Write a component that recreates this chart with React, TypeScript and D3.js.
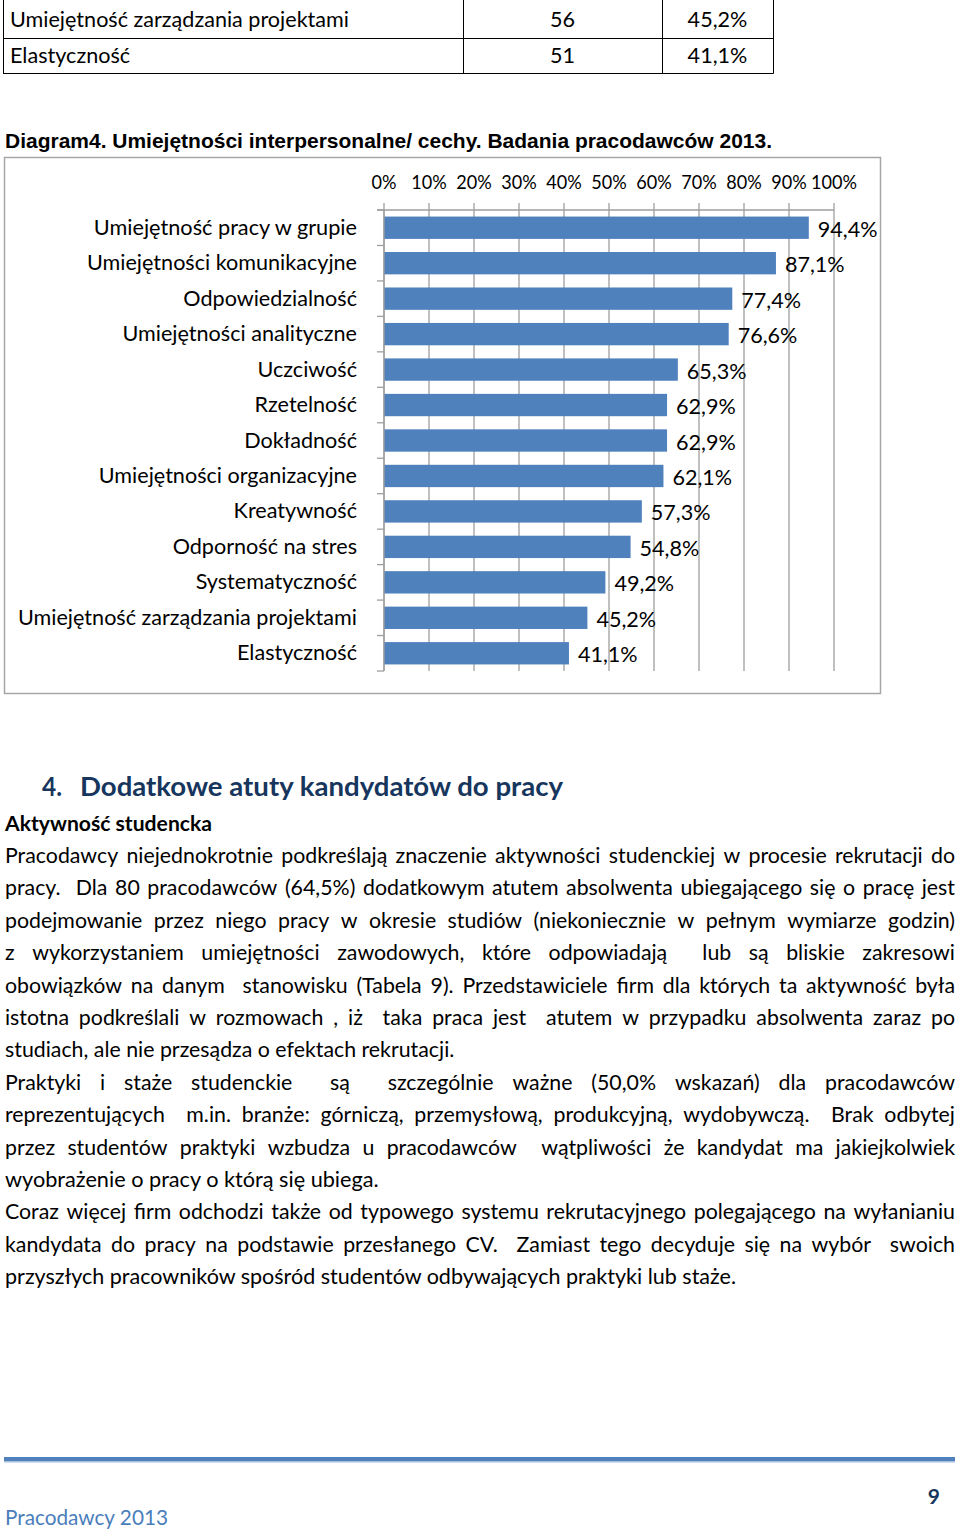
import React from 'react';
import * as d3 from 'd3';

// ---------- data ----------
const categories = [
  'Umiejętność pracy w grupie',
  'Umiejętności komunikacyjne',
  'Odpowiedzialność',
  'Umiejętności analityczne',
  'Uczciwość',
  'Rzetelność',
  'Dokładność',
  'Umiejętności organizacyjne',
  'Kreatywność',
  'Odporność na stres',
  'Systematyczność',
  'Umiejętność zarządzania projektami',
  'Elastyczność',
];
const values = [94.4, 87.1, 77.4, 76.6, 65.3, 62.9, 62.9, 62.1, 57.3, 54.8, 49.2, 45.2, 41.1];
const xTicks = [0, 10, 20, 30, 40, 50, 60, 70, 80, 90, 100];

const tableRows = [
  ['Umiejętność zarządzania projektami', '56', '45,2%'],
  ['Elastyczność', '51', '41,1%'],
];

const diagramTitle = 'Diagram4. Umiejętności interpersonalne/ cechy. Badania pracodawców 2013.';
const sectionNumber = '4.';
const sectionTitle = 'Dodatkowe atuty kandydatów do pracy';
const subTitle = 'Aktywność studencka';

// [text, justified]
const bodyLines: [string, boolean][] = [
  ['Pracodawcy niejednokrotnie podkreślają znaczenie aktywności studenckiej w procesie rekrutacji do', true],
  ['pracy.  Dla 80 pracodawców (64,5%) dodatkowym atutem absolwenta ubiegającego się o pracę jest', true],
  ['podejmowanie przez niego pracy w okresie studiów (niekoniecznie w pełnym wymiarze godzin)', true],
  ['z wykorzystaniem umiejętności zawodowych, które odpowiadają  lub są bliskie zakresowi', true],
  ['obowiązków na danym  stanowisku (Tabela 9). Przedstawiciele firm dla których ta aktywność była', true],
  ['istotna podkreślali w rozmowach , iż  taka praca jest  atutem w przypadku absolwenta zaraz po', true],
  ['studiach, ale nie przesądza o efektach rekrutacji.', false],
  ['Praktyki i staże studenckie  są  szczególnie ważne (50,0% wskazań) dla pracodawców', true],
  ['reprezentujących  m.in. branże: górniczą, przemysłową, produkcyjną, wydobywczą.  Brak odbytej', true],
  ['przez studentów praktyki wzbudza u pracodawców  wątpliwości że kandydat ma jakiejkolwiek', true],
  ['wyobrażenie o pracy  o którą się ubiega.', false],
  ['Coraz więcej firm odchodzi także od typowego systemu rekrutacyjnego polegającego na wyłanianiu', true],
  ['kandydata do pracy na podstawie przesłanego CV.  Zamiast tego decyduje się na wybór  swoich', true],
  ['przyszłych  pracowników spośród studentów odbywających praktyki lub staże.', false],
];

const footerLeft = 'Pracodawcy 2013';
const pageNumber = '9';

// ---------- measuring ----------
const FAMILY = 'Lato';
const canvas = typeof document !== 'undefined' ? document.createElement('canvas') : null;
const ctx = canvas ? canvas.getContext('2d') : null;
function measure(text: string, size: number, weight = 'normal', family = FAMILY) {
  if (!ctx) return text.length * size * 0.5;
  ctx.font = `${weight} ${size}px ${family}`;
  return ctx.measureText(text).width;
}

const BAR = '#4F81BD';
const GRID = '#9E9E9E';

export default function App() {
  const W = 960;
  const H = 1532;

  // chart scales
  const x = d3.scaleLinear().domain([0, 100]).range([384, 834]);
  const y = d3.scaleBand<string>().domain(categories).range([210, 671]).paddingInner(0.37).paddingOuter(0.185);
  const yStep = d3.scaleBand<string>().domain(categories).range([210, 671]).padding(0);

  // label condensation factor (to mimic Calibri widths)
  const LABEL_SIZE = 21;
  const kLabel = 339 / measure('Umiejętność zarządzania projektami', LABEL_SIZE);
  const TICK_SIZE = 19;
  const kTick = 46 / measure('100%', TICK_SIZE);

  // body text
  const BODY_SIZE = 20.5;
  const kBody = 731 / measure(bodyLines[13][0], BODY_SIZE);
  const bodyLeft = 5;
  const bodyRight = 955;
  const bodyTop = 863;
  const lineGap = 32.4;

  const bodyEls: React.ReactNode[] = [];
  bodyLines.forEach(([line, just], i) => {
    const by = bodyTop + i * lineGap;
    if (!just) {
      bodyEls.push(
        <text key={`b${i}`} x={bodyLeft} y={by} fontSize={BODY_SIZE} textLength={measure(line, BODY_SIZE) * kBody} lengthAdjust="spacingAndGlyphs">
          {line}
        </text>
      );
    } else {
      const tokens = line.split(' ');
      const widths = tokens.map((t) => (t ? measure(t, BODY_SIZE) * kBody : 0));
      const sum = d3.sum(widths);
      const gap = (bodyRight - bodyLeft - sum) / (tokens.length - 1);
      let cx = bodyLeft;
      tokens.forEach((t, j) => {
        if (t) {
          bodyEls.push(
            <text key={`b${i}_${j}`} x={cx} y={by} fontSize={BODY_SIZE} textLength={widths[j]} lengthAdjust="spacingAndGlyphs">
              {t}
            </text>
          );
        }
        cx += widths[j] + gap;
      });
    }
  });

  const colX = [3, 463, 662, 773];

  return (
    <svg
      width={W}
      height={H}
      viewBox={`0 0 ${W} ${H}`}
      style={{ position: 'absolute', left: 0, top: 0, display: 'block', background: '#fff' }}
      fontFamily={FAMILY}
    >
      <rect x={0} y={0} width={W} height={H} fill="#fff" />

      {/* ---------- table fragment ---------- */}
      <g stroke="#000" strokeWidth={1}>
        {colX.map((cx, i) => (
          <line key={`tc${i}`} x1={cx + 0.5} x2={cx + 0.5} y1={0} y2={73.5} />
        ))}
        <line x1={3} x2={773.5} y1={38.5} y2={38.5} />
        <line x1={3} x2={773.5} y1={73.5} y2={73.5} />
      </g>
      {tableRows.map((r, i) => {
        const ty = 27 + i * 36;
        return (
          <g key={`tr${i}`} fontSize={LABEL_SIZE} fill="#000">
            <text x={10} y={ty} textLength={measure(r[0], LABEL_SIZE) * kLabel} lengthAdjust="spacingAndGlyphs">
              {r[0]}
            </text>
            <text x={(colX[1] + colX[2]) / 2} y={ty} textAnchor="middle" textLength={measure(r[1], LABEL_SIZE) * kLabel} lengthAdjust="spacingAndGlyphs">
              {r[1]}
            </text>
            <text x={(colX[2] + colX[3]) / 2} y={ty} textAnchor="middle" textLength={measure(r[2], LABEL_SIZE) * kLabel} lengthAdjust="spacingAndGlyphs">
              {r[2]}
            </text>
          </g>
        );
      })}

      {/* ---------- diagram title ---------- */}
      <text
        x={5}
        y={148}
        fontFamily="Liberation Sans, Arial, sans-serif"
        fontWeight="bold"
        fontSize={20.5}
        textLength={767}
        lengthAdjust="spacingAndGlyphs"
        fill="#000"
      >
        {diagramTitle}
      </text>

      {/* ---------- chart frame ---------- */}
      <rect x={4.5} y={157.5} width={876} height={536} fill="#fff" stroke="#A6A6A6" strokeWidth={1.5} />

      {/* grid lines + top ticks */}
      <g stroke={GRID} strokeWidth={1.3}>
        {xTicks.map((t) => (
          <line key={`g${t}`} x1={x(t)} x2={x(t)} y1={203} y2={671} />
        ))}
        <line x1={377} x2={x(100)} y1={210} y2={210} />
      </g>

      {/* bars */}
      {categories.map((c, i) => (
        <rect key={`bar${i}`} x={x(0)} y={y(c)} width={x(values[i]) - x(0)} height={y.bandwidth()} fill={BAR} />
      ))}

      {/* left axis */}
      <g stroke={GRID} strokeWidth={1.3}>
        <line x1={x(0)} x2={x(0)} y1={210} y2={671} />
        {d3.range(categories.length + 1).map((i) => {
          const ty = yStep.range()[0] + i * yStep.step();
          return <line key={`lt${i}`} x1={377} x2={x(0)} y1={ty} y2={ty} />;
        })}
      </g>

      {/* top tick labels */}
      {xTicks.map((t) => {
        const lab = `${t}%`;
        return (
          <text
            key={`tl${t}`}
            x={x(t)}
            y={189}
            textAnchor="middle"
            fontSize={TICK_SIZE}
            fill="#000"
            textLength={measure(lab, TICK_SIZE) * kTick}
            lengthAdjust="spacingAndGlyphs"
          >
            {lab}
          </text>
        );
      })}

      {/* category labels */}
      {categories.map((c) => {
        const cy = (yStep(c) as number) + yStep.bandwidth() / 2;
        return (
          <text
            key={`cl${c}`}
            x={357}
            y={cy + 7}
            textAnchor="end"
            fontSize={LABEL_SIZE}
            fill="#000"
            textLength={measure(c, LABEL_SIZE) * kLabel}
            lengthAdjust="spacingAndGlyphs"
          >
            {c}
          </text>
        );
      })}

      {/* value labels */}
      {categories.map((c, i) => {
        const cy = (yStep(c) as number) + yStep.bandwidth() / 2;
        const lab = values[i].toFixed(1).replace('.', ',') + '%';
        return (
          <text
            key={`vl${c}`}
            x={x(values[i]) + 9}
            y={cy + 9}
            fontSize={LABEL_SIZE}
            fill="#000"
            textLength={measure(lab, LABEL_SIZE) * kLabel}
            lengthAdjust="spacingAndGlyphs"
          >
            {lab}
          </text>
        );
      })}

      {/* ---------- section heading ---------- */}
      <g fill="#17365D" fontWeight="bold" fontSize={27}>
        <text x={42} y={796} textLength={20} lengthAdjust="spacingAndGlyphs">
          {sectionNumber}
        </text>
        <text x={80} y={796} textLength={483} lengthAdjust="spacingAndGlyphs">
          {sectionTitle}
        </text>
      </g>
      <text x={5} y={831} fontWeight="bold" fontSize={21} fill="#000" textLength={207} lengthAdjust="spacingAndGlyphs">
        {subTitle}
      </text>

      {/* ---------- body ---------- */}
      <g fill="#000">{bodyEls}</g>

      {/* ---------- footer ---------- */}
      <rect x={4} y={1457} width={951} height={4} fill={BAR} />
      <rect x={4} y={1461} width={951} height={1.5} fill="#A7BFDE" />
      <text x={940} y={1504} textAnchor="end" fontWeight="bold" fontSize={21} fill="#17365D">
        {pageNumber}
      </text>
      <text x={5} y={1525} fontSize={21} fill="#4A7EBB" textLength={163} lengthAdjust="spacingAndGlyphs">
        {footerLeft}
      </text>
    </svg>
  );
}
